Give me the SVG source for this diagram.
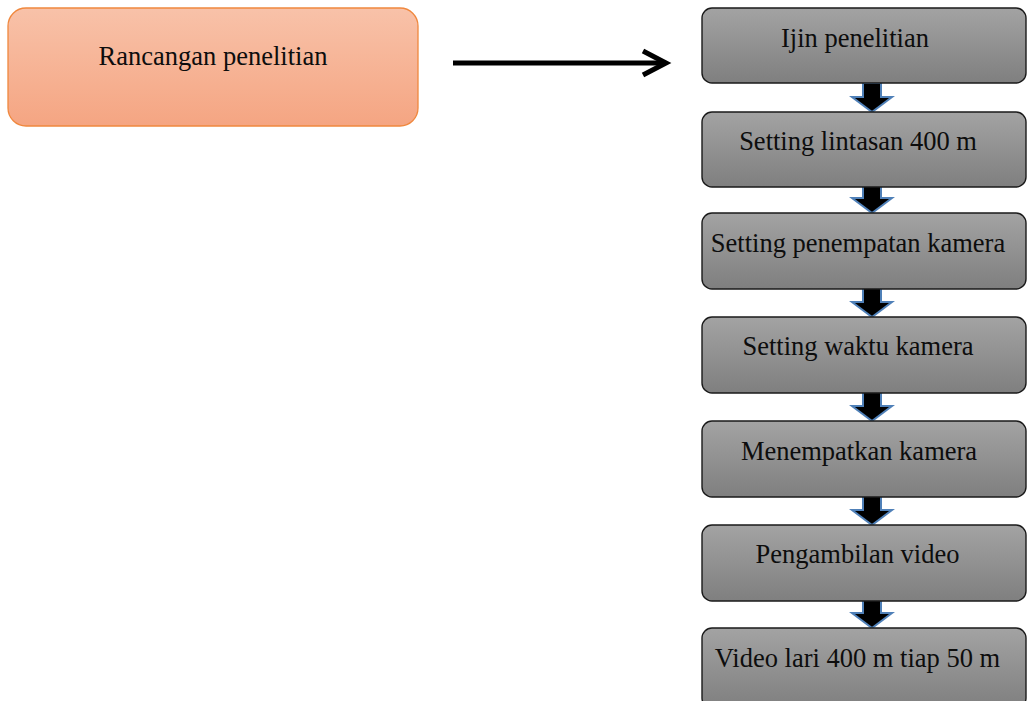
<svg xmlns="http://www.w3.org/2000/svg" width="1027" height="701" viewBox="0 0 1027 701">
  <defs>
    <linearGradient id="gradOrange" x1="0" y1="0" x2="0" y2="1">
      <stop offset="0" stop-color="#f8c2a9"/>
      <stop offset="1" stop-color="#f5a582"/>
    </linearGradient>
    <linearGradient id="gradGray" x1="0" y1="0" x2="0" y2="1">
      <stop offset="0" stop-color="#a3a3a3"/>
      <stop offset="1" stop-color="#7f7f7f"/>
    </linearGradient>
    <!-- block arrow pointing down, tip at (0,0) -->
    <path id="downArrow" d="M -9 -29 L 9 -29 L 9 -15 L 20 -15 L 0 0 L -20 -15 L -9 -15 Z"/>
  </defs>
  <style>
    .lbl { font-family: "Liberation Serif", "Times New Roman", serif; font-size: 26.5px; fill: #0d0d0d; text-anchor: middle; }
    .step { fill: url(#gradGray); stroke: #1a1a1a; stroke-width: 1.4; }
    .start { fill: url(#gradOrange); stroke: #f0883e; stroke-width: 1.3; }
    .flow { fill: #000000; stroke: #4f80b8; stroke-width: 2; stroke-linejoin: miter; }
    .main { fill: none; stroke: #000000; stroke-width: 5; stroke-linecap: butt; stroke-linejoin: miter; }
  </style>

  <rect width="1027" height="701" fill="#ffffff"/>

  <!-- connectors -->
  <g id="connectors">
    <line class="main" x1="453" y1="63" x2="665" y2="63"/>
    <polyline class="main" points="643,51 666,63 643,75"/>
    <use href="#downArrow" class="flow" x="872" y="112"/>
    <use href="#downArrow" class="flow" x="872" y="213"/>
    <use href="#downArrow" class="flow" x="872" y="317"/>
    <use href="#downArrow" class="flow" x="872" y="421"/>
    <use href="#downArrow" class="flow" x="872" y="525"/>
    <use href="#downArrow" class="flow" x="872" y="628"/>
  </g>

  <g id="node-rancangan">
    <rect class="start" x="8" y="8" width="410" height="118" rx="18" ry="18"/>
    <text class="lbl" x="213" y="65">Rancangan penelitian</text>
  </g>

  <g id="node-ijin">
    <rect class="step" x="702" y="8" width="324" height="75" rx="10" ry="10"/>
    <text class="lbl" x="855" y="47">Ijin penelitian</text>
  </g>

  <g id="node-lintasan">
    <rect class="step" x="702" y="112" width="324" height="75" rx="10" ry="10"/>
    <text class="lbl" x="858" y="150">Setting lintasan 400 m</text>
  </g>

  <g id="node-penempatan">
    <rect class="step" x="702" y="213" width="324" height="76" rx="10" ry="10"/>
    <text class="lbl" x="858" y="252">Setting penempatan kamera</text>
  </g>

  <g id="node-waktu">
    <rect class="step" x="702" y="317" width="324" height="76" rx="10" ry="10"/>
    <text class="lbl" x="858" y="355">Setting waktu kamera</text>
  </g>

  <g id="node-menempatkan">
    <rect class="step" x="702" y="421" width="324" height="76" rx="10" ry="10"/>
    <text class="lbl" x="859" y="460">Menempatkan kamera</text>
  </g>

  <g id="node-pengambilan">
    <rect class="step" x="702" y="525" width="324" height="76" rx="10" ry="10"/>
    <text class="lbl" x="857.5" y="563">Pengambilan video</text>
  </g>

  <g id="node-video">
    <rect class="step" x="702" y="628" width="324" height="80" rx="10" ry="10"/>
    <text class="lbl" x="857.5" y="667">Video lari 400 m tiap 50 m</text>
  </g>
</svg>
